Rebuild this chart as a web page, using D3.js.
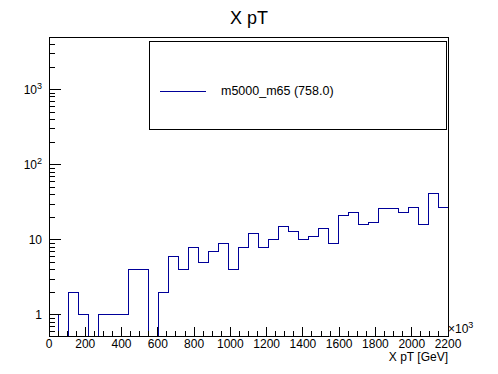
<!DOCTYPE html>
<html>
<head>
<meta charset="utf-8">
<script src="https://cdn.jsdelivr.net/npm/d3@7"></script>
<style>
  body { margin: 0; background: #fff; }
  text { font-family: "Liberation Sans", Arial, sans-serif; fill: #000; }
  line, rect, path { shape-rendering: crispEdges; }
</style>
</head>
<body>
<div class="chart"></div>
<script>
// histogram: 40 bins from 0 to 2200 (x10^3 shown on axis)
var binEdges = d3.range(0, 2201, 55);
var counts = [1,0,2,1,0,1,1,1,4,4,0,2,6,4,8,5,7,9,4,8,
              12,8,10,15,13,10,11,14,9,21,23,16,17,26,26,23,27,16,41,27];
var xTickValues = [0,200,400,600,800,1000,1200,1400,1600,1800,2000,2200];
var yTickValues = [1,10,100,1000];
var seriesName = "m5000_m65 (758.0)";
var titleText = "X pT";
var xTitle = "X pT [GeV]";

(function buildChart(){
  var W = 498, H = 374;
  var m = {left: 49, right: 448, top: 37, bottom: 336};

  var svg = d3.select(".chart").append("svg")
    .attr("width", W).attr("height", H);
  svg.append("rect").attr("width", W).attr("height", H).attr("fill", "#fff");

  var x = d3.scaleLinear().domain([0, 2200]).range([m.left, m.right]);
  var y = d3.scaleLog().domain([0.525, 5030]).range([m.bottom, m.top]);

  // histogram line, empty bins drop to the bottom of the frame
  var yb = function(v){ return v > 0 ? y(v) : m.bottom; };
  var d = "M" + x(binEdges[0]) + "," + m.bottom + "V" + yb(counts[0]);
  counts.forEach(function(c, i){
    d += "H" + x(binEdges[i+1]);
    if (i < counts.length - 1) d += "V" + yb(counts[i+1]);
  });
  svg.append("path")
    .attr("d", d)
    .attr("fill", "none")
    .attr("stroke", "#000099")
    .attr("stroke-width", 1);

  // frame
  svg.append("rect")
    .attr("x", m.left).attr("y", m.top)
    .attr("width", m.right - m.left).attr("height", m.bottom - m.top)
    .attr("fill", "none").attr("stroke", "#000").attr("stroke-width", 1);

  // x ticks (inside)
  var xMinor = d3.range(0, 2201, 50);
  svg.append("g").selectAll("line").data(xMinor).enter().append("line")
    .attr("x1", function(v){ return x(v); }).attr("x2", function(v){ return x(v); })
    .attr("y1", m.bottom)
    .attr("y2", function(v){ return v % 200 === 0 ? m.bottom - 9 : m.bottom - 5; })
    .attr("stroke", "#000");

  svg.append("g").selectAll("text").data(xTickValues).enter().append("text")
    .attr("x", function(v){ return x(v); })
    .attr("y", 348)
    .attr("text-anchor", "middle")
    .attr("font-size", 12)
    .text(function(v){ return v; });

  var xm = svg.append("text").attr("x", m.right).attr("y", 333).attr("font-size", 12);
  xm.append("tspan").text("\u00d710");
  xm.append("tspan").attr("dy", -5).attr("font-size", 9).text("3");

  svg.append("text")
    .attr("x", m.right).attr("y", 361)
    .attr("text-anchor", "end")
    .attr("font-size", 12)
    .text(xTitle);

  // y ticks (log)
  var yMinor = [];
  [0.1, 1, 10, 100, 1000].forEach(function(dec){
    d3.range(1, 10).forEach(function(k){
      var v = dec * k;
      if (v >= 0.525 && v <= 5030) yMinor.push(v);
    });
  });
  svg.append("g").selectAll("line").data(yMinor).enter().append("line")
    .attr("x1", m.left)
    .attr("x2", function(v){ return yTickValues.indexOf(+v.toPrecision(6)) >= 0 ? m.left + 12 : m.left + 6; })
    .attr("y1", function(v){ return y(v); }).attr("y2", function(v){ return y(v); })
    .attr("stroke", "#000");

  var yl = svg.append("g").selectAll("text").data(yTickValues).enter().append("text")
    .attr("x", 42)
    .attr("y", function(v){ return y(v) + 4; })
    .attr("text-anchor", "end")
    .attr("font-size", 12);
  yl.each(function(v){
    var t = d3.select(this);
    if (v < 100) { t.text(v); return; }
    t.append("tspan").text("10");
    t.append("tspan").attr("dy", -5).attr("font-size", 9).text(Math.round(Math.log10(v)));
  });

  // title
  svg.append("text")
    .attr("x", 249).attr("y", 24)
    .attr("text-anchor", "middle")
    .attr("font-size", 18)
    .text(titleText);

  // legend
  svg.append("rect")
    .attr("x", 149).attr("y", 41)
    .attr("width", 297).attr("height", 88)
    .attr("fill", "#fff").attr("stroke", "#000").attr("stroke-width", 1);
  svg.append("line")
    .attr("x1", 160).attr("x2", 206).attr("y1", 91).attr("y2", 91)
    .attr("stroke", "#000099").attr("stroke-width", 1);
  svg.append("text")
    .attr("x", 221).attr("y", 95)
    .attr("font-size", 12.5)
    .text(seriesName);
})();
</script>
</body>
</html>
